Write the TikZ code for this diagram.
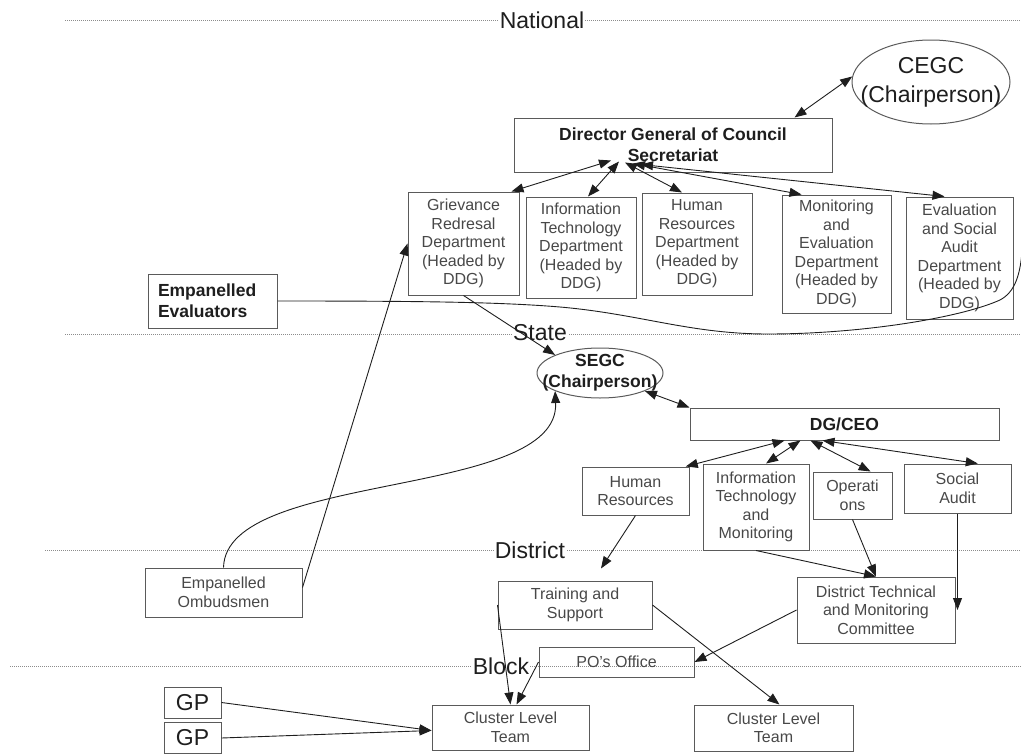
\documentclass[tikz,border=0pt]{standalone}
\usepackage{fontspec}
\setmainfont{Liberation Sans}
\usetikzlibrary{arrows.meta,shapes.geometric}
\definecolor{ogInk}{HTML}{1E1E1E}
\definecolor{ogText}{HTML}{484848}
\definecolor{ogEdge}{HTML}{5A5A5A}
\definecolor{ogDots}{HTML}{8C8C8C}
\newcommand{\OGType}{\fontsize{16}{18.5}\selectfont}
\newcommand{\OGHead}{\fontsize{17.5}{21}\selectfont\bfseries}
\newcommand{\OGBig}{\fontsize{23}{29}\selectfont}
\tikzset{og/base/.style={x=1pt,y=1pt,line cap=butt,line join=miter,
  every node/.style={font=\OGType,inner sep=0pt,text=ogText}},
  og/box/.style={draw=ogEdge,line width=1pt,align=center},
  og/head/.style={og/box,font=\OGHead,text=ogInk},
  og/oval/.style={draw=ogEdge,line width=1pt,ellipse,align=center,inner sep=-40pt},
  og/arrow/.style={arrows={-Triangle[length=12pt,width=9pt]},draw=ogInk,line width=.9pt},
  og/both/.style={arrows={Triangle[length=12pt,width=9pt]-Triangle[length=12pt,width=9pt]},
    draw=ogInk,line width=.9pt},
  og/line/.style={draw=ogInk,line width=.9pt},
  og/dots/.style={draw=ogDots,line width=.8pt,dash pattern=on .8pt off 1.2pt},
  og/level/.style={font=\OGBig,text=ogInk,fill=white,inner sep=1pt}}

\begin{document}
\begin{tikzpicture}[og/base,y=-1pt]
  \useasboundingbox (0,0) rectangle (1021,755);
  % tier rules
  \foreach \y/\x in {20/65,334/65,550/45,666/10}{\draw[og/dots] (\x,\y)--(1021,\y);}
  \node[og/level] (national) at (542,20) {National};
  \node[og/level] (state) at (540,333) {State};
  \node[og/level] (district) at (530,550) {District};
  \node[og/level] (block) at (501,666) {Block};

  % national tier
  \node[og/oval,minimum width=158pt,minimum height=84pt,font=\OGBig,text=ogInk] (cegc) at (931,82) {CEGC\\(Chairperson)};
  \node[og/head,minimum width=318pt,minimum height=54pt] (dg) at (673,145) {Director General of Council\\Secretariat};
  \foreach \nm/\x/\y/\w/\hh/\txt in {
    griev/463.5/243.5/111/103/{Grievance\\Redresal\\Department\\(Headed by\\DDG)},
    itdep/581/247.5/110/101/{Information\\Technology\\Department\\(Headed by\\DDG)},
    hrdep/697/244/110/102/{Human\\Resources\\Department\\(Headed by\\DDG)},
    medep/836.5/254/109/118/{Monitoring\\and\\Evaluation\\Department\\(Headed by\\DDG)},
    esadep/959.5/258/107/122/{Evaluation\\and Social\\Audit\\Department\\(Headed by\\DDG)}}{
    \node[og/box,minimum width=\w pt,minimum height=\hh pt] (\nm) at (\x,\y) {\txt};}
  \node[og/head,minimum width=129pt,minimum height=54pt,align=left,text width=109pt] (evals) at (212.5,301) {Empanelled\\Evaluators};
  \coordinate (evalend) at (1022,252);

  % state tier
  \node[og/oval,minimum width=126pt,minimum height=50pt,font=\OGHead,text=ogInk] (segc) at (600,373) {SEGC\\(Chairperson)};
  \node[og/head,minimum width=309pt,minimum height=32pt] (dgceo) at (844.5,424) {DG/CEO};
  \foreach \nm/\x/\y/\w/\hh/\txt in {
    shr/635.5/491/107/48/{Human\\Resources},
    sitm/756/507/106/86/{Information\\Technology\\and\\Monitoring},
    sops/852.5/495.5/79/47/{Operati\\ons},
    ssa/957.5/488.5/107/49/{Social\\Audit}}{
    \node[og/box,minimum width=\w pt,minimum height=\hh pt] (\nm) at (\x,\y) {\txt};}

  % district and block tiers
  \node[og/box,minimum width=157pt,minimum height=49pt] (ombud) at (223.5,592.5) {Empanelled\\Ombudsmen};
  \node[og/box,minimum width=154pt,minimum height=48pt] (train) at (575,605) {Training and\\Support};
  \node[og/box,minimum width=158pt,minimum height=66pt] (dtmc) at (876,610) {District Technical\\and Monitoring\\Committee};
  \node[og/box,minimum width=155pt,minimum height=30pt] (po) at (616.5,662) {PO's Office};
  \node[og/box,minimum width=157pt,minimum height=45pt] (cl1) at (510.5,727.5) {Cluster Level\\Team};
  \node[og/box,minimum width=159pt,minimum height=46pt] (cl2) at (773.5,728) {Cluster Level\\Team};
  \node[og/box,minimum width=57pt,minimum height=31pt,font=\OGBig,text=ogInk] (gp1) at (192.5,702.5) {GP};
  \node[og/box,minimum width=57pt,minimum height=31pt,font=\OGBig,text=ogInk] (gp2) at (192.5,738) {GP};

  % connectors, national
  \draw[og/both] ([xshift=-38pt]dg.north east) -- (cegc.176);
  \draw[og/both] ([xshift=-62pt,yshift=12pt]dg.south) -- ([xshift=-8pt]griev.north east);
  \draw[og/both] ([xshift=-54pt,yshift=11pt]dg.south) -- ([xshift=7pt]itdep.north);
  \draw[og/both] ([xshift=-48pt,yshift=10pt]dg.south) -- ([xshift=-15pt]hrdep.north);
  \draw[og/both] ([xshift=-40pt,yshift=9pt]dg.south) -- ([xshift=20pt]medep.north west);
  \draw[og/both] ([xshift=-32pt,yshift=8pt]dg.south) -- ([xshift=-15pt]esadep.north);
  \draw[og/line] (evals.east) .. controls (420,301) and (500,302) .. (560,307)
    .. controls (640,314) and (690,334) .. (768,334)
    .. controls (860,334) and (960,318) .. (1000,300)
    .. controls (1015,292) and (1020,275) .. (evalend);
  \draw[og/arrow] (griev.south) -- (segc.north west);
  \draw[og/arrow] ([yshift=5pt]ombud.east) -- (griev.west);
  \draw[og/arrow] (ombud.north) .. controls (226,470) and (560,500) .. (segc.south west);

  % connectors, state
  \draw[og/both] (segc.south east) -- (dgceo.north west);
  \draw[og/both] ([xshift=-60pt]dgceo.south) -- (shr.26);
  \draw[og/both] ([xshift=-44pt]dgceo.south) -- (sitm.77);
  \draw[og/both] ([xshift=-34pt]dgceo.south) -- (sops.53);
  \draw[og/both] ([xshift=-22pt]dgceo.south) -- (ssa.51);

  % connectors, district and block
  \draw[og/arrow] (shr.south) -- ([xshift=26pt,yshift=12pt]train.north);
  \draw[og/arrow] (sitm.south) -- (dtmc.north);
  \draw[og/arrow] (sops.south) -- (dtmc.north);
  \draw[og/arrow] (ssa.south) -- (ssa.south |- dtmc.east);
  \draw[og/arrow] (dtmc.west) -- (po.east);
  \draw[og/arrow] (train.west) -- (cl1.north);
  \draw[og/arrow] (po.west) -- ([xshift=6pt]cl1.north);
  \draw[og/arrow] (train.east) -- ([xshift=6pt]cl2.north);
  \draw[og/arrow] (gp1.east) -- ([yshift=-3pt]cl1.west);
  \draw[og/arrow] (gp2.east) -- ([yshift=-3pt]cl1.west);
\end{tikzpicture}
\end{document}
